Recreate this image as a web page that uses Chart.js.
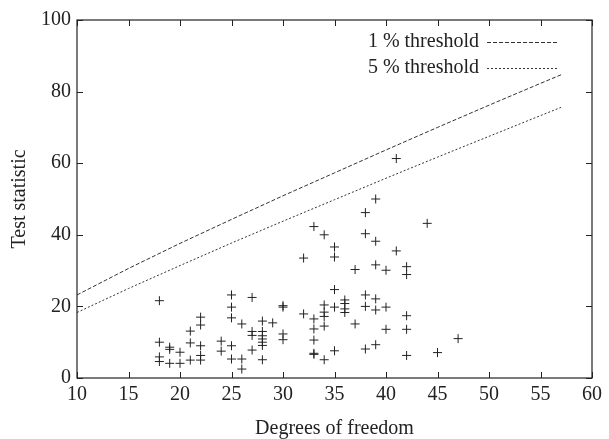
<!DOCTYPE html>
<html>
<head>
<meta charset="utf-8">
<script src="https://cdn.jsdelivr.net/npm/chart.js@4/dist/chart.umd.min.js"></script>
<style>
  html, body { margin: 0; padding: 0; background: #fff; }
  #wrap { width: 609px; height: 439px; }
</style>
</head>
<body>
<div id="wrap"><canvas id="myChart" width="609" height="439"></canvas></div>
<script>
// threshold curves (critical values)
const dfLine = [10, 15, 20, 25, 30, 35, 40, 45, 50, 55, 57];
const crit1 = [23.2, 30.6, 37.6, 44.3, 50.9, 57.3, 63.7, 70.0, 76.2, 82.3, 84.7];
const crit5 = [18.3, 25.0, 31.4, 37.7, 43.8, 49.8, 55.8, 61.7, 67.5, 73.3, 75.6];

// observed test statistics
const ptDf = [
  18, 18, 18, 18,
  19, 19, 19,
  20, 20,
  21, 21, 21,
  22, 22, 22, 22, 22,
  24, 24,
  25, 25, 25, 25, 25,
  26, 26, 26,
  27, 27, 27, 27,
  28, 28, 28, 28, 28, 28, 28,
  29,
  30, 30, 30, 30,
  32, 32,
  33, 33, 33, 33, 33, 33,
  34, 34, 34, 34, 34, 34,
  35, 35, 35, 35, 35,
  36, 36, 36, 36,
  37, 37,
  38, 38, 38, 38, 38,
  39, 39, 39, 39, 39, 39,
  40, 40, 40,
  41, 41,
  42, 42, 42, 42, 42,
  44, 45, 47
];
const ptStat = [
  21.6, 10.0, 5.9, 4.6,
  8.6, 8.0, 4.1,
  7.2, 4.1,
  13.1, 9.8, 5.0,
  17.0, 14.8, 9.0, 6.3, 5.0,
  10.3, 7.5,
  23.2, 19.8, 16.8, 9.0, 5.3,
  15.1, 5.3, 2.5,
  22.5, 13.0, 11.9, 7.8,
  15.9, 13.0, 11.8, 10.9, 10.0, 9.1, 5.1,
  15.4,
  20.2, 19.8, 12.3, 10.7,
  33.5, 17.9,
  42.3, 16.5, 13.7, 10.6, 6.9, 6.6,
  40.0, 20.4, 18.4, 17.2, 14.5, 5.1,
  36.6, 33.8, 24.7, 19.8, 7.6,
  21.8, 20.8, 19.3, 18.3,
  30.3, 15.1,
  46.2, 40.3, 23.2, 20.0, 8.1,
  50.0, 38.2, 31.6, 22.1, 19.0, 9.3,
  30.1, 19.8, 13.6,
  61.3, 35.5,
  31.1, 28.9, 17.4, 13.6, 6.3,
  43.2, 7.1, 11.0
];

const xTicks = [10, 15, 20, 25, 30, 35, 40, 45, 50, 55, 60];
const yTicks = [0, 20, 40, 60, 80, 100];

const FONT = "'Liberation Serif', 'Times New Roman', serif";
const INK = "#222";

function toXY(xs, ys) {
  let out = [];
  for (let i = 0; i < xs.length; i++) out.push({ x: xs[i], y: ys[i] });
  return out;
}

// box, inward ticks and the in-plot legend
const framePlugin = {
  id: "frame",
  afterDatasetsDraw(chart) {
    const ctx = chart.ctx;
    const a = chart.chartArea;
    const xs = chart.scales.x, ys = chart.scales.y;
    ctx.save();
    ctx.strokeStyle = INK;
    ctx.lineWidth = 1.2;
    ctx.strokeRect(a.left, a.top, a.right - a.left, a.bottom - a.top);
    ctx.lineWidth = 1;
    ctx.beginPath();
    xTicks.forEach(v => {
      const px = Math.round(xs.getPixelForValue(v)) + 0.5;
      ctx.moveTo(px, a.bottom); ctx.lineTo(px, a.bottom - 6);
      ctx.moveTo(px, a.top); ctx.lineTo(px, a.top + 6);
    });
    yTicks.forEach(v => {
      const py = Math.round(ys.getPixelForValue(v)) + 0.5;
      ctx.moveTo(a.left, py); ctx.lineTo(a.left + 6, py);
      ctx.moveTo(a.right, py); ctx.lineTo(a.right - 6, py);
    });
    ctx.stroke();

    // legend
    ctx.font = "20px " + FONT;
    ctx.fillStyle = INK;
    ctx.textAlign = "right";
    ctx.textBaseline = "middle";
    const items = chart.data.datasets.filter(d => d.showLine);
    items.forEach((d, i) => {
      const y = 42 + i * 26;
      ctx.fillText(d.label, 479, y);
      ctx.strokeStyle = d.borderColor;
      ctx.lineWidth = d.borderWidth;
      ctx.setLineDash(d.borderDash);
      ctx.beginPath();
      ctx.moveTo(487, y + 0.5);
      ctx.lineTo(559, y + 0.5);
      ctx.stroke();
    });
    ctx.restore();
  }
};

const config = {
  type: "scatter",
  data: {
    datasets: [
      {
        label: "1 % threshold",
        data: toXY(dfLine, crit1),
        showLine: true,
        borderColor: "#333",
        borderWidth: 1,
        borderDash: [4, 2],
        pointRadius: 0,
        fill: false,
      },
      {
        label: "5 % threshold",
        data: toXY(dfLine, crit5),
        showLine: true,
        borderColor: "#333",
        borderWidth: 1,
        borderDash: [2, 2],
        pointRadius: 0,
        fill: false,
      },
      {
        label: "statistic",
        data: toXY(ptDf, ptStat),
        pointStyle: "cross",
        pointRadius: 4.5,
        borderColor: INK,
        backgroundColor: INK,
        pointBorderWidth: 1,
      },
    ],
  },
  options: {
    responsive: false,
    animation: false,
    layout: { padding: { top: 20, right: 17, left: 0, bottom: 0 } },
    plugins: {
      legend: { display: false },
      tooltip: { enabled: false },
    },
    scales: {
      x: {
        type: "linear",
        min: 10,
        max: 60,
        afterBuildTicks(s) { s.ticks = xTicks.map(v => ({ value: v })); },
        afterFit(s) { s.height = 61; },
        grid: { display: false, drawTicks: false },
        border: { display: false },
        ticks: { color: INK, padding: 5, maxRotation: 0, font: { family: FONT, size: 20 } },
        title: {
          display: true,
          text: "Degrees of freedom",
          color: INK,
          padding: { top: 0, bottom: 0 },
          font: { family: FONT, size: 20, lineHeight: 1.0 },
        },
      },
      y: {
        type: "linear",
        min: 0,
        max: 100,
        afterBuildTicks(s) { s.ticks = yTicks.map(v => ({ value: v })); },
        afterFit(s) { s.width = 77; },
        grid: { display: false, drawTicks: false },
        border: { display: false },
        ticks: { color: INK, padding: 6, font: { family: FONT, size: 20 } },
        title: {
          display: true,
          text: "Test statistic",
          color: INK,
          padding: { top: 10, bottom: 0 },
          font: { family: FONT, size: 20, lineHeight: 1.0 },
        },
      },
    },
  },
  plugins: [framePlugin],
};

const myChart = new Chart(document.getElementById("myChart"), config);
</script>
</body>
</html>
